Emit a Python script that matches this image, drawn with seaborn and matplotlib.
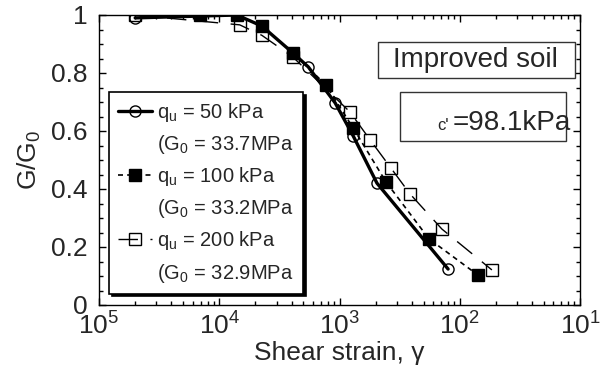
import numpy as np
import pandas as pd
import matplotlib
matplotlib.use("Agg")
import matplotlib.pyplot as plt
import seaborn as sns
from matplotlib.lines import Line2D
from matplotlib.patches import Rectangle
from matplotlib.ticker import FixedLocator, FixedFormatter, LogLocator, NullFormatter, MultipleLocator

# ---- data ----
strain_50 = [2.0e-5, 1.4e-4, 2.26e-4, 4.1e-4, 5.5e-4, 9.2e-4, 1.3e-3, 2.05e-3, 8.0e-3]
ratio_50 = [0.99, 1.0, 0.962, 0.869, 0.821, 0.697, 0.583, 0.42, 0.124]

strain_100 = [6.9e-5, 1.4e-4, 2.26e-4, 4.1e-4, 7.7e-4, 1.3e-3, 2.44e-3, 5.55e-3, 1.42e-2]
ratio_100 = [1.0, 1.0, 0.962, 0.869, 0.759, 0.61, 0.424, 0.228, 0.103]

strain_200 = [2.0e-5, 1.48e-4, 2.26e-4, 4.1e-4, 1.22e-3, 1.8e-3, 2.68e-3, 3.86e-3, 7.1e-3, 1.85e-2]
ratio_200 = [1.0, 0.966, 0.93, 0.855, 0.666, 0.569, 0.472, 0.383, 0.262, 0.121]

xtick_values = [1e-5, 1e-4, 1e-3, 1e-2, 1e-1]
xtick_labels = ["$\\mathregular{10^{5}}$", "$\\mathregular{10^{4}}$", "$\\mathregular{10^{3}}$",
                "$\\mathregular{10^{2}}$", "$\\mathregular{10^{1}}$"]
ytick_values = [0, 0.2, 0.4, 0.6, 0.8, 1.0]
ytick_labels = ["0", "0.2", "0.4", "0.6", "0.8", "1"]

legend_q = ["q$_\\mathregular{u}$ = 50 kPa", "q$_\\mathregular{u}$ = 100 kPa", "q$_\\mathregular{u}$ = 200 kPa"]
legend_g = ["(G$_\\mathregular{0}$ = 33.7MPa", "(G$_\\mathregular{0}$ = 33.2MPa", "(G$_\\mathregular{0}$ = 32.9MPa"]

sns.set_theme(style="white")
plt.rcParams["font.family"] = ["Liberation Sans", "DejaVu Sans"]
plt.rcParams["mathtext.fontset"] = "custom"
plt.rcParams["mathtext.rm"] = "Liberation Sans"
plt.rcParams["mathtext.it"] = "Liberation Sans"

fig = plt.figure(figsize=(6.08, 3.72), dpi=100)
ax = fig.add_axes([99/608, 1-305/372, 481/608, 290/372])

df200 = pd.DataFrame({"strain": strain_200, "ratio": ratio_200})
df100 = pd.DataFrame({"strain": strain_100, "ratio": ratio_100})
df50 = pd.DataFrame({"strain": strain_50, "ratio": ratio_50})

style200 = dict(color="black", lw=1.0, marker="s", markersize=8, markerfacecolor="none",
                markeredgecolor="black", markeredgewidth=1.0)
style100 = dict(color="black", lw=1.2, marker="s", markersize=8.5, markerfacecolor="black",
                markeredgecolor="black", markeredgewidth=1.0)
style50 = dict(color="black", lw=2.4, marker="o", markersize=8, markerfacecolor="none",
               markeredgecolor="black", markeredgewidth=1.0)

sns.lineplot(data=df200, x="strain", y="ratio", sort=False, estimator=None, ax=ax, **style200)
ax.lines[-1].set_dashes([14, 9])
sns.lineplot(data=df100, x="strain", y="ratio", sort=False, estimator=None, ax=ax, **style100)
ax.lines[-1].set_dashes([3, 2.5])
sns.lineplot(data=df50, x="strain", y="ratio", sort=False, estimator=None, ax=ax, **style50)

ax.set_xscale("log")
ax.set_xlim(1e-5, 1e-1)
ax.set_ylim(0, 1)
ax.xaxis.set_major_locator(FixedLocator(xtick_values))
ax.xaxis.set_major_formatter(FixedFormatter(xtick_labels))
ax.xaxis.set_minor_locator(LogLocator(base=10, subs=np.arange(2, 10)))
ax.xaxis.set_minor_formatter(NullFormatter())
ax.yaxis.set_major_locator(FixedLocator(ytick_values))
ax.yaxis.set_major_formatter(FixedFormatter(ytick_labels))
ax.yaxis.set_minor_locator(MultipleLocator(0.05))

ax.tick_params(which="both", direction="in", top=True, right=True, bottom=True, left=True,
               color="black", width=1.0)
ax.tick_params(which="major", length=5, labelsize=19)
ax.tick_params(axis="y", which="major", pad=8)
ax.tick_params(axis="x", which="major", pad=5)
ax.tick_params(which="minor", length=3)
for s in ax.spines.values():
    s.set_color("black")
    s.set_linewidth(1.0)

ax.set_xlabel("Shear strain, γ", fontsize=19, labelpad=1)
ax.set_ylabel("G/G$_\\mathregular{0}$", fontsize=19, labelpad=6)

# legend
handles, labels = [], []
for st, dash, q, g in [(style50, None, legend_q[0], legend_g[0]),
                       (style100, [3, 2.5], legend_q[1], legend_g[1]),
                       (style200, [14, 9], legend_q[2], legend_g[2])]:
    h = Line2D([], [], **st)
    if dash is not None:
        h.set_dashes(dash)
    handles += [h, Line2D([], [], linestyle="none")]
    labels += [q, g]
leg = ax.legend(handles, labels, loc="upper left", bbox_to_anchor=(0.021, 0.734),
                borderaxespad=0, fontsize=14.5, frameon=True, fancybox=False,
                shadow={"color": "black", "alpha": 1.0}, handlelength=1.7,
                handletextpad=0.25, labelspacing=0.45, borderpad=0.45)
leg.get_frame().set_edgecolor("black")
leg.get_frame().set_linewidth(1.2)
leg.get_frame().set_alpha(1)

# text boxes
ax.add_patch(Rectangle((0.580, 0.783), 0.410, 0.124, transform=ax.transAxes,
                       facecolor="white", edgecolor="#333333", lw=1.0, zorder=5))
ax.text(0.782, 0.845, "Improved soil", transform=ax.transAxes, ha="center", va="center",
        fontsize=20, zorder=6)
ax.add_patch(Rectangle((0.626, 0.566), 0.345, 0.168, transform=ax.transAxes,
                       facecolor="white", edgecolor="#333333", lw=1.0, zorder=5))
ax.text(0.703, 0.603, "c'", transform=ax.transAxes, ha="left", va="baseline",
        fontsize=12, zorder=6)
ax.text(0.735, 0.603, "=98.1kPa", transform=ax.transAxes, ha="left", va="baseline",
        fontsize=20, zorder=6)

fig.savefig("out.png", dpi=100)
